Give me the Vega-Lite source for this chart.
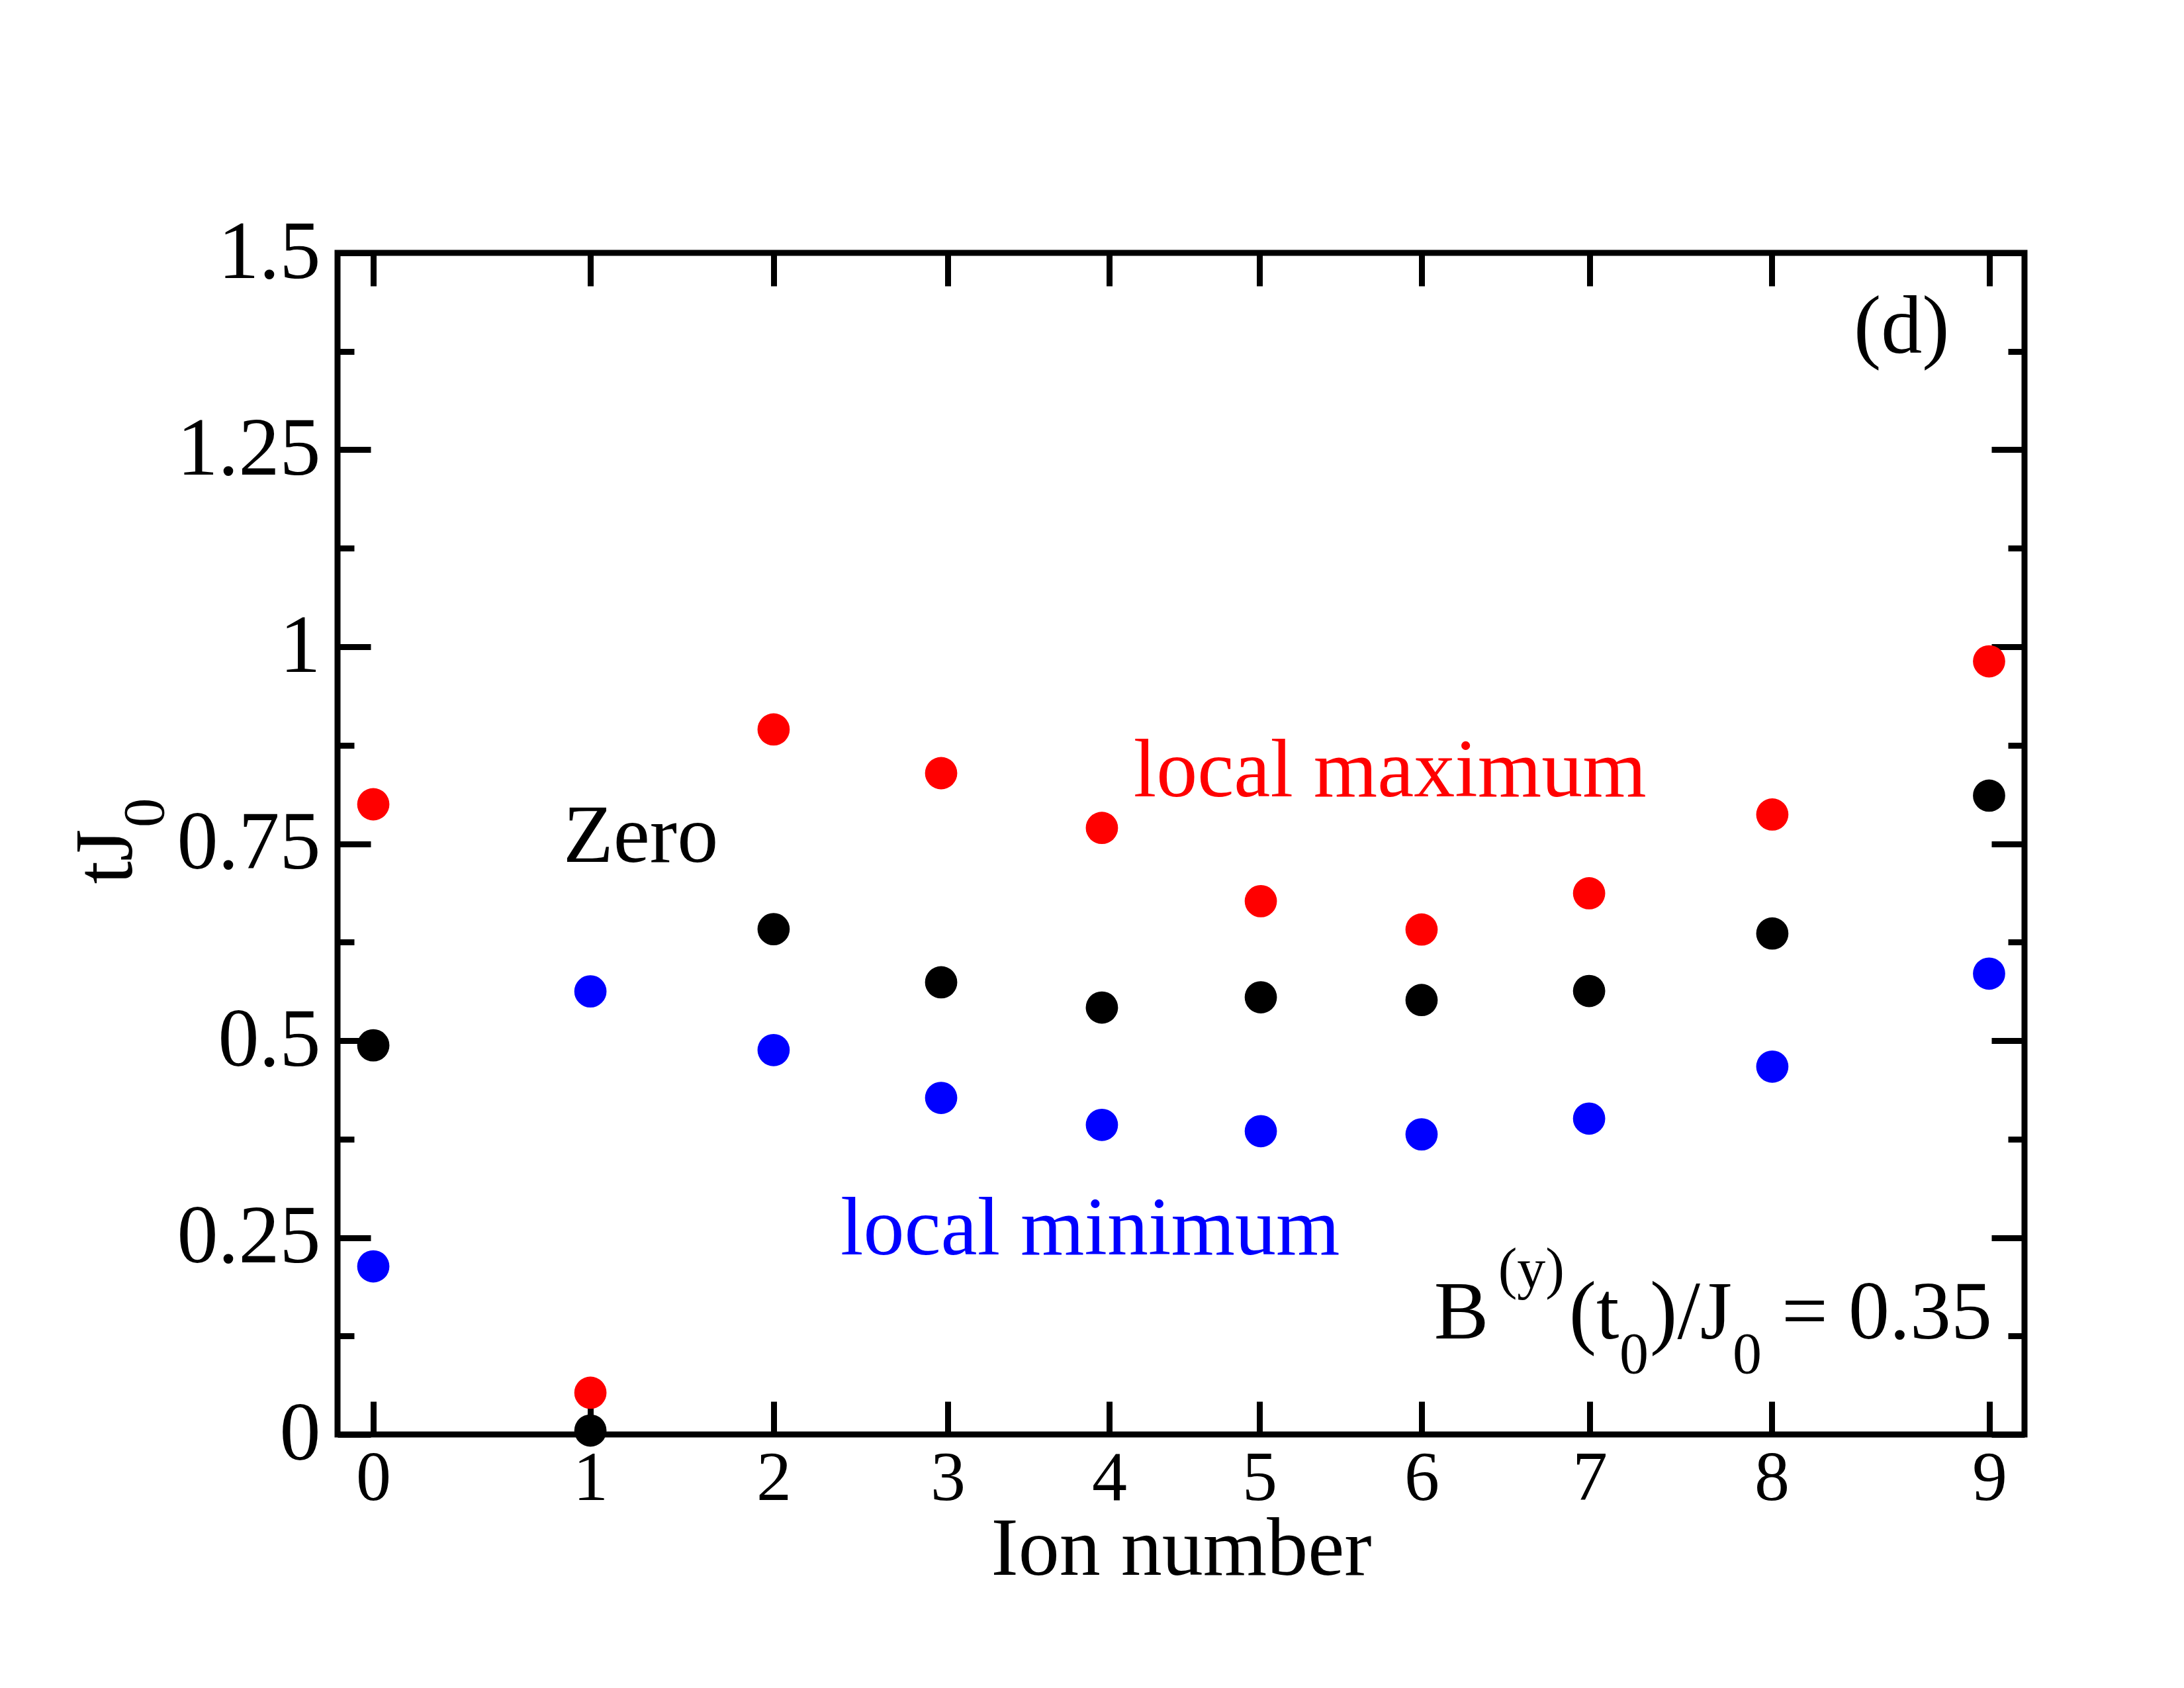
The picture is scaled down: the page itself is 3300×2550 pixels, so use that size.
{
  "$schema": "https://vega.github.io/schema/vega-lite/v6.json",
  "width": 2549,
  "height": 1785,
  "autosize": {"type": "none"},
  "padding": {"left": 510, "top": 382, "right": 241, "bottom": 383},
  "background": "white",
  "config": {
    "font": "Liberation Serif",
    "view": {"stroke": "black", "strokeWidth": 9},
    "axis": {
      "domain": false,
      "grid": false,
      "tickColor": "black",
      "tickWidth": 9,
      "labelColor": "black",
      "titleColor": "black",
      "labelFont": "Liberation Serif",
      "titleFont": "Liberation Serif",
      "titleFontWeight": "normal",
      "labelFlush": false,
      "labelOverlap": false,
      "labelLimit": 0
    },
    "text": {"font": "Liberation Serif"}
  },
  "resolve": {"axis": {"x": "independent", "y": "independent"}},
  "layer": [
    {
      "data": {"values": [
        {"ion": 0, "pos": 2.12, "kind": "max", "t": 0.800},
        {"ion": 1, "pos": 14.99, "kind": "max", "t": 0.053},
        {"ion": 2, "pos": 25.85, "kind": "max", "t": 0.895},
        {"ion": 3, "pos": 35.78, "kind": "max", "t": 0.8395},
        {"ion": 4, "pos": 45.31, "kind": "max", "t": 0.770},
        {"ion": 5, "pos": 54.73, "kind": "max", "t": 0.677},
        {"ion": 6, "pos": 64.26, "kind": "max", "t": 0.641},
        {"ion": 7, "pos": 74.19, "kind": "max", "t": 0.687},
        {"ion": 8, "pos": 85.05, "kind": "max", "t": 0.787},
        {"ion": 9, "pos": 97.9, "kind": "max", "t": 0.9815},
        {"ion": 0, "pos": 2.12, "kind": "zero", "t": 0.494},
        {"ion": 1, "pos": 14.99, "kind": "zero", "t": 0.005},
        {"ion": 2, "pos": 25.85, "kind": "zero", "t": 0.6415},
        {"ion": 3, "pos": 35.78, "kind": "zero", "t": 0.574},
        {"ion": 4, "pos": 45.31, "kind": "zero", "t": 0.542},
        {"ion": 5, "pos": 54.73, "kind": "zero", "t": 0.555},
        {"ion": 6, "pos": 64.26, "kind": "zero", "t": 0.5515},
        {"ion": 7, "pos": 74.19, "kind": "zero", "t": 0.563},
        {"ion": 8, "pos": 85.05, "kind": "zero", "t": 0.636},
        {"ion": 9, "pos": 97.9, "kind": "zero", "t": 0.811},
        {"ion": 0, "pos": 2.12, "kind": "min", "t": 0.2134},
        {"ion": 1, "pos": 14.99, "kind": "min", "t": 0.5625},
        {"ion": 2, "pos": 25.85, "kind": "min", "t": 0.488},
        {"ion": 3, "pos": 35.78, "kind": "min", "t": 0.4273},
        {"ion": 4, "pos": 45.31, "kind": "min", "t": 0.393},
        {"ion": 5, "pos": 54.73, "kind": "min", "t": 0.385},
        {"ion": 6, "pos": 64.26, "kind": "min", "t": 0.381},
        {"ion": 7, "pos": 74.19, "kind": "min", "t": 0.401},
        {"ion": 8, "pos": 85.05, "kind": "min", "t": 0.467},
        {"ion": 9, "pos": 97.9, "kind": "min", "t": 0.585}
      ]},
      "mark": {"type": "circle", "size": 2376, "opacity": 1},
      "encoding": {
        "x": {"field": "pos", "type": "quantitative",
              "scale": {"domain": [0, 100], "nice": false, "zero": false},
              "axis": {"orient": "bottom",
                       "values": [2.12, 14.99, 25.85, 36.17, 45.74, 54.65, 64.26, 74.23, 85.01, 97.92],
                       "labelExpr": "'' + indexof([2.12, 14.99, 25.85, 36.17, 45.74, 54.65, 64.26, 74.23, 85.01, 97.92], datum.value)",
                       "ticks": false,
                       "labelFontSize": 106,
                       "labelPadding": 98,
                       "labelBaseline": "alphabetic",
                       "title": "Ion number",
                       "titleFontSize": 124,
                       "titleY": 211,
                       "titleBaseline": "alphabetic"}},
        "y": {"field": "t", "type": "quantitative",
              "scale": {"domain": [0, 1.5], "nice": false, "zero": false},
              "axis": {"orient": "left",
                       "values": [0, 0.25, 0.5, 0.75, 1, 1.25, 1.5],
                       "labelExpr": "'' + datum.value",
                       "ticks": false,
                       "labelFontSize": 124,
                       "labelPadding": 26,
                       "title": "tJ",
                       "titleFontSize": 124,
                       "titleAngle": 270,
                       "titleX": -312,
                       "titleY": 953,
                       "titleAlign": "left",
                       "titleBaseline": "alphabetic"}},
        "color": {"field": "kind", "type": "nominal",
                  "scale": {"domain": ["max", "zero", "min"], "range": ["#ff0000", "#000000", "#0000ff"]},
                  "legend": null}
      }
    },
    {
      "data": {"values": [{"x": 47.19, "y": 0.8101, "text": "local maximum"}]},
      "mark": {"type": "text", "align": "left", "baseline": "alphabetic", "fontSize": 124, "color": "#ff0000"},
      "encoding": {
        "x": {"field": "x", "type": "quantitative",
              "axis": {"orient": "bottom", "values": [2.12, 14.99, 25.85, 36.17, 45.74, 54.65, 64.26, 74.23, 85.01, 97.92],
                       "labels": false, "title": null, "tickSize": -50}},
        "y": {"field": "y", "type": "quantitative",
              "axis": {"orient": "left", "values": [0, 0.25, 0.5, 0.75, 1, 1.25, 1.5],
                       "labels": false, "title": null, "tickSize": -50}},
        "text": {"field": "text"}
      }
    },
    {
      "data": {"values": [{"x": 29.82, "y": 0.2286, "text": "local minimum"}]},
      "mark": {"type": "text", "align": "left", "baseline": "alphabetic", "fontSize": 124, "color": "#0000ff"},
      "encoding": {
        "x": {"field": "x", "type": "quantitative",
              "axis": {"orient": "top", "values": [2.12, 14.99, 25.85, 36.17, 45.74, 54.65, 64.26, 74.23, 85.01, 97.92],
                       "labels": false, "title": null, "tickSize": -50}},
        "y": {"field": "y", "type": "quantitative",
              "axis": {"orient": "right", "values": [0, 0.25, 0.5, 0.75, 1, 1.25, 1.5],
                       "labels": false, "title": null, "tickSize": -50}},
        "text": {"field": "text"}
      }
    },
    {
      "data": {"values": [{"x": 13.38, "y": 0.7269, "text": "Zero"}]},
      "mark": {"type": "text", "align": "left", "baseline": "alphabetic", "fontSize": 124, "color": "#000000"},
      "encoding": {
        "x": {"field": "x", "type": "quantitative", "axis": null},
        "y": {"field": "y", "type": "quantitative",
              "axis": {"orient": "left", "values": [0.125, 0.375, 0.625, 0.875, 1.125, 1.375],
                       "labels": false, "title": null, "tickSize": -25}},
        "text": {"field": "text"}
      }
    },
    {
      "data": {"values": [{"x": 89.88, "y": 1.3731, "text": "(d)"}]},
      "mark": {"type": "text", "align": "left", "baseline": "alphabetic", "fontSize": 124, "color": "#000000"},
      "encoding": {
        "x": {"field": "x", "type": "quantitative", "axis": null},
        "y": {"field": "y", "type": "quantitative",
              "axis": {"orient": "right", "values": [0.125, 0.375, 0.625, 0.875, 1.125, 1.375],
                       "labels": false, "title": null, "tickSize": -25}},
        "text": {"field": "text"}
      }
    },
    {
      "data": {"values": [
        {"x": 65.0, "y": 0.1218, "text": "B"},
        {"x": 73.0, "y": 0.1218, "text": "(t"},
        {"x": 77.8, "y": 0.1218, "text": ")/J"},
        {"x": 85.6, "y": 0.1218, "text": "= 0.35"}
      ]},
      "mark": {"type": "text", "align": "left", "baseline": "alphabetic", "fontSize": 124, "color": "#000000"},
      "encoding": {
        "x": {"field": "x", "type": "quantitative", "axis": null},
        "y": {"field": "y", "type": "quantitative", "axis": null},
        "text": {"field": "text"}
      }
    },
    {
      "data": {"values": [{"x": 68.8, "y": 0.1866, "text": "(y)"}]},
      "mark": {"type": "text", "align": "left", "baseline": "alphabetic", "fontSize": 86, "color": "#000000"},
      "encoding": {
        "x": {"field": "x", "type": "quantitative", "axis": null},
        "y": {"field": "y", "type": "quantitative", "axis": null},
        "text": {"field": "text"}
      }
    },
    {
      "data": {"values": [
        {"x": 75.99, "y": 0.0782, "text": "0"},
        {"x": 82.7, "y": 0.0782, "text": "0"}
      ]},
      "mark": {"type": "text", "align": "left", "baseline": "alphabetic", "fontSize": 88, "color": "#000000"},
      "encoding": {
        "x": {"field": "x", "type": "quantitative", "axis": null},
        "y": {"field": "y", "type": "quantitative", "axis": null},
        "text": {"field": "text"}
      }
    },
    {
      "data": {"values": [{"x": -10.32, "y": 0.7706, "text": "0"}]},
      "mark": {"type": "text", "align": "left", "baseline": "alphabetic", "fontSize": 89, "angle": 270, "color": "#000000"},
      "encoding": {
        "x": {"field": "x", "type": "quantitative", "axis": null},
        "y": {"field": "y", "type": "quantitative", "axis": null},
        "text": {"field": "text"}
      }
    }
  ]
}
